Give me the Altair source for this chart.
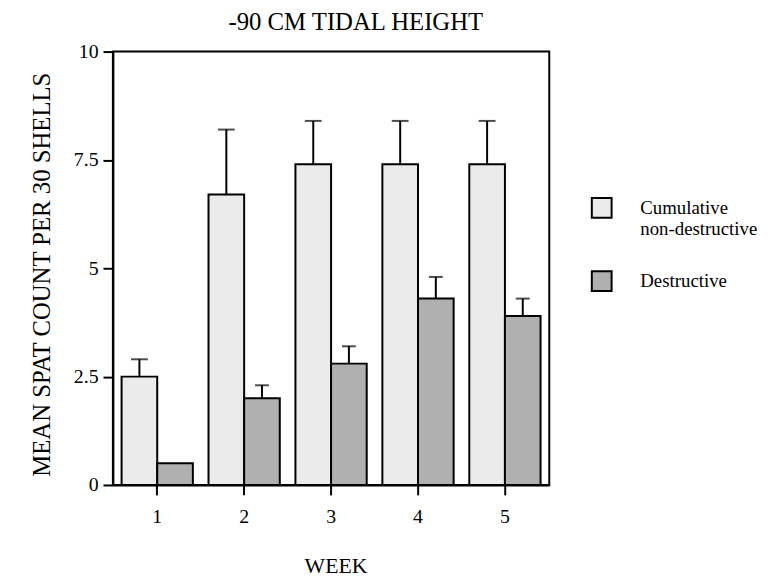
import altair as alt
import pandas as pd

weeks = ["1", "2", "3", "4", "5"]
series_names = ["Cumulative non-destructive", "Destructive"]
cum_mean = [2.5, 6.7, 7.4, 7.4, 7.4]
cum_upper = [2.9, 8.2, 8.4, 8.4, 8.4]
des_mean = [0.5, 2.0, 2.8, 4.3, 3.9]
des_upper = [None, 2.3, 3.2, 4.8, 4.3]
y_ticks = [0, 2.5, 5, 7.5, 10]

rows = []
for i, w in enumerate(weeks):
    rows.append({"week": w, "series": series_names[0], "mean": cum_mean[i], "upper": cum_upper[i]})
    rows.append({"week": w, "series": series_names[1], "mean": des_mean[i], "upper": des_upper[i]})
df = pd.DataFrame(rows)

FONT = "Liberation Serif"

x_enc = alt.X(
    "week:N",
    sort=weeks,
    scale=alt.Scale(paddingInner=0.18, paddingOuter=0.1),
    axis=alt.Axis(
        title="WEEK", labelAngle=0, tickSize=10, tickWidth=2, tickColor="black",
        domainColor="black", domainWidth=2, labelPadding=12,
        labelFont=FONT, labelFontSize=20, labelColor="black",
        titleFont=FONT, titleFontSize=22, titleFontWeight="normal", titleColor="black",
        titleX=225, titleY=81, titleAlign="center", titleBaseline="middle",
    ),
)
xoff_enc = alt.XOffset("series:N", sort=series_names, scale=alt.Scale(paddingInner=0, paddingOuter=0))
y_axis = alt.Axis(
    title="MEAN SPAT COUNT PER 30 SHELLS", values=y_ticks, labelExpr="datum.value", grid=False,
    tickSize=10, tickWidth=2, tickColor="black", domainColor="black", domainWidth=2,
    labelPadding=5, labelFont=FONT, labelFontSize=20, labelColor="black",
    titleFont=FONT, titleFontSize=25, titleFontWeight="normal", titleColor="black",
    titleX=-72, titleY=225, titleAngle=270, titleAlign="center", titleBaseline="middle",
)

base = alt.Chart(df)

bars = base.mark_bar(stroke="black", strokeWidth=2).encode(
    x=x_enc,
    xOffset=xoff_enc,
    y=alt.Y("mean:Q", scale=alt.Scale(domain=[0, 10], nice=False), axis=y_axis),
    fill=alt.Fill(
        "series:N",
        sort=series_names,
        scale=alt.Scale(domain=series_names, range=["#ebebeb", "#b0b0b0"]),
        legend=alt.Legend(
            title=None, orient="none", legendX=483, legendY=147,
            symbolType="square", symbolSize=400, symbolStrokeColor="black",
            symbolStrokeWidth=2, labelFont=FONT, labelFontSize=19, labelColor="black",
            labelOffset=28, rowPadding=29, labelLimit=300,
            labelExpr="datum.label == 'Cumulative non-destructive' ? ['Cumulative', 'non-destructive'] : datum.label",
        ),
    ),
)

valid = base.transform_filter("isValid(datum.upper)")

rules = valid.mark_rule(color="black", strokeWidth=2).encode(
    x=x_enc, xOffset=xoff_enc, y="mean:Q", y2="upper:Q"
)

caps_cum = valid.transform_filter(alt.datum.series == series_names[0]).mark_tick(
    color="black", thickness=2, size=17
).encode(x=x_enc, xOffset=xoff_enc, y="upper:Q")

caps_des = valid.transform_filter(alt.datum.series == series_names[1]).mark_tick(
    color="black", thickness=2, size=14
).encode(x=x_enc, xOffset=xoff_enc, y="upper:Q")

chart = (
    alt.layer(bars, rules, caps_cum, caps_des)
    .properties(
        width=441, height=438,
        title=alt.TitleParams(
            "-90 CM TIDAL HEIGHT", font=FONT, fontSize=25, fontWeight="normal",
            color="black", anchor="middle", dx=25, offset=7, frame="group",
        ),
        autosize=alt.AutoSizeParams(type="none"),
        padding={"left": 106, "top": 41, "right": 216, "bottom": 92},
        background="white",
    )
    .configure_view(stroke="black", strokeWidth=2)
)

chart.save("out.html", embed_options={"renderer": "svg", "actions": False})
